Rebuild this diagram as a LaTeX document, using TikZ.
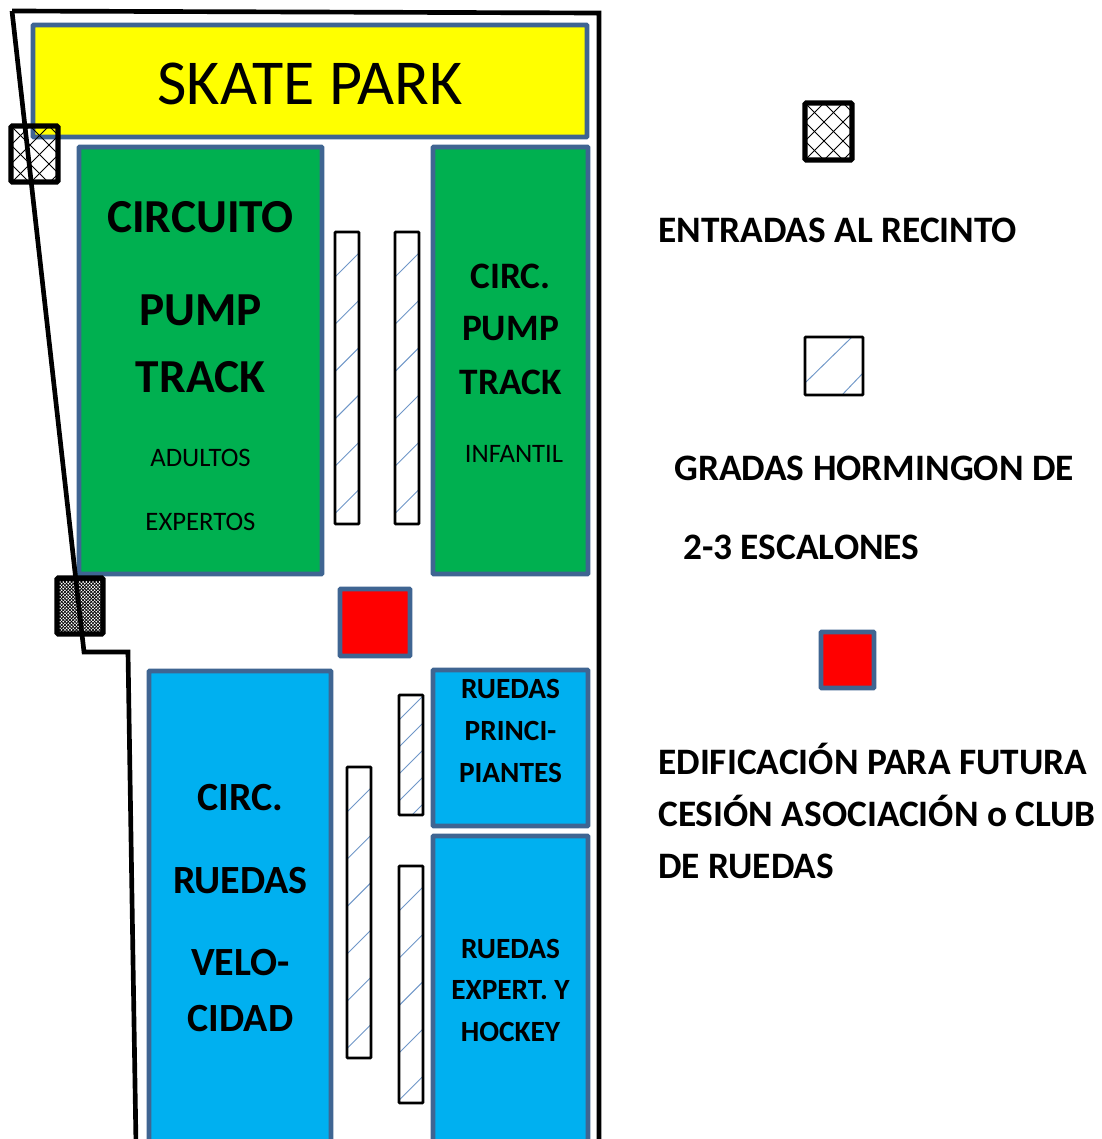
\documentclass[tikz,border=0pt]{standalone}
\usepackage{fontspec}
\setmainfont{Carlito}
\definecolor{edgeb}{HTML}{3F6592}
\definecolor{hatchb}{HTML}{6F97C8}
\definecolor{grn}{HTML}{00B050}
\definecolor{sky}{HTML}{00B0F0}
\definecolor{ylw}{HTML}{FFFF00}
\definecolor{rd}{HTML}{FF0000}
\newcommand{\fs}[1]{\fontsize{#1}{#1}\selectfont}
\tikzset{
  x=0.75pt,y=-0.75pt,
  zone/.style={draw=edgeb,line width=3.6pt,inner sep=0pt,rounded corners=0.5pt},
  wall/.style={draw=black,line width=3.5pt,line join=miter},
  standbox/.style={draw=black,line width=1.9pt,rounded corners=0.5pt},
  entrybox/.style={draw=black,line width=3.9pt,rounded corners=1pt},
  txt/.style={anchor=base,inner sep=0pt,text=black},
  legend/.style={anchor=base west,inner sep=0pt,font=\fs{28}\bfseries},
}
% stand: x1,y1,x2,y2,first hatch lower-left y,count,spacing
\newcommand{\stand}[7]{%
  \begin{scope}
    \clip (#1,#2) rectangle (#3,#4);
    \foreach \k in {0,...,#6}{
      \draw[hatchb,line width=0.7pt] (#1,#5+#7*\k) -- ++(#3-#1,-#3+#1);
    }
  \end{scope}
  \draw[standbox] (#1,#2) rectangle (#3,#4);
}
% crosshatch entry
\newcommand{\crossentry}[4]{%
  \begin{scope}
    \clip (#1,#2) rectangle (#3,#4);
    \foreach \k in {-6,...,10}{
      \draw[black,line width=0.75pt] (#1+\k*19,#2) -- ++(80,80);
      \draw[black,line width=0.75pt] (#1+\k*19,#2) -- ++(-80,80);
    }
  \end{scope}
  \draw[entrybox] (#1,#2) rectangle (#3,#4);
}
\begin{document}
\begin{tikzpicture}
\clip (0,0) rectangle (1101,1139);
\fill[white] (0,0) rectangle (1101,1139);
% zones
\draw[zone,fill=ylw] (33,25) rectangle (587,137);
\draw[zone,fill=grn] (79,147) rectangle (322,574);
\draw[zone,fill=grn] (433,147) rectangle (588,574);
\draw[zone,fill=rd] (340,589) rectangle (410,656);
\draw[zone,fill=sky] (149,671) rectangle (331,1160);
\draw[zone,fill=sky] (433,670) rectangle (588,826);
\draw[zone,fill=sky] (433,836) rectangle (588,1160);
% stands
\stand{335}{232}{359}{524}{277}{5}{47.3}
\stand{395}{232}{419}{524}{277}{5}{47.3}
\stand{399}{695}{423}{815}{720}{4}{27}
\stand{347}{767}{371}{1058}{812}{5}{47.3}
\stand{399}{866}{423}{1103}{911}{4}{47.3}
% entries
\crossentry{11}{126}{58}{182}
\fill[black] (57,578) rectangle (103,634);
\foreach \i in {0,...,12}{
  \foreach \j in {0,...,15}{
    \fill[white] (60+\i*3.3,582+\j*3.3) circle (0.95);
    \fill[white] (61.65+\i*3.3,583.65+\j*3.3) circle (0.95);
  }
}
\draw[entrybox] (57,578) rectangle (103,634);
% boundary
\draw[wall] (12,11) -- (599,13) -- (599,1145);
\draw[wall] (12,11) -- (84,652) -- (128,652) -- (136,1145);
% plan labels
\node[txt,font=\fs{48}] (skate) at (310,104) {SKATE PARK};
\node[txt,font=\fs{35.5}\bfseries] (c1) at (200.5,232) {CIRCUITO};
\node[txt,font=\fs{35.5}\bfseries] (c2) at (200.5,325) {PUMP};
\node[txt,font=\fs{35.5}\bfseries] (c3) at (200.5,392.5) {TRACK};
\node[txt,font=\fs{20}] (c4) at (200.5,466) {ADULTOS};
\node[txt,font=\fs{20}] (c5) at (200.5,530) {EXPERTOS};
\node[txt,font=\fs{28}\bfseries] (d1) at (510.5,288) {CIRC.};
\node[txt,font=\fs{28}\bfseries] (d2) at (510.5,340) {PUMP};
\node[txt,font=\fs{28}\bfseries] (d3) at (510.5,394) {TRACK};
\node[txt,font=\fs{20}] (d4) at (514,462) {INFANTIL};
\node[txt,font=\fs{22}\bfseries] (e1) at (510.5,698) {RUEDAS};
\node[txt,font=\fs{22}\bfseries] (e2) at (510.5,740) {PRINCI-};
\node[txt,font=\fs{22}\bfseries] (e3) at (510.5,782) {PIANTES};
\node[txt,font=\fs{22}\bfseries] (f1) at (510.5,958) {RUEDAS};
\node[txt,font=\fs{22}\bfseries] (f2) at (510.5,999) {EXPERT. Y};
\node[txt,font=\fs{22}\bfseries] (f3) at (510.5,1041) {HOCKEY};
\node[txt,font=\fs{30}\bfseries] (g1) at (240.5,810) {CIRC.};
\node[txt,font=\fs{30}\bfseries] (g2) at (240.5,893) {RUEDAS};
\node[txt,font=\fs{30}\bfseries] (g3) at (240.5,975) {VELO-};
\node[txt,font=\fs{30}\bfseries] (g4) at (240.5,1031) {CIDAD};
% legend
\crossentry{805}{103}{852}{160}
\node[legend] (l1) at (658,242) {ENTRADAS AL RECINTO};
\begin{scope}
  \clip (805,337) rectangle (863,395);
  \draw[hatchb,line width=0.7pt] (806,382) -- (852,337);
  \draw[hatchb,line width=0.7pt] (842,395) -- (863,373);
\end{scope}
\draw[standbox] (805,337) rectangle (863,395);
\node[legend] (l2) at (674,480) {GRADAS HORMINGON DE};
\node[legend] (l3) at (683,559) {2-3 ESCALONES};
\draw[zone,fill=rd] (821,632) rectangle (874,688);
\node[legend] (l4) at (658,774) {EDIFICACIÓN PARA FUTURA};
\node[legend] (l5) at (658,826) {CESIÓN ASOCIACIÓN o CLUB};
\node[legend] (l6) at (658,878) {DE RUEDAS};
\end{tikzpicture}
\end{document}
